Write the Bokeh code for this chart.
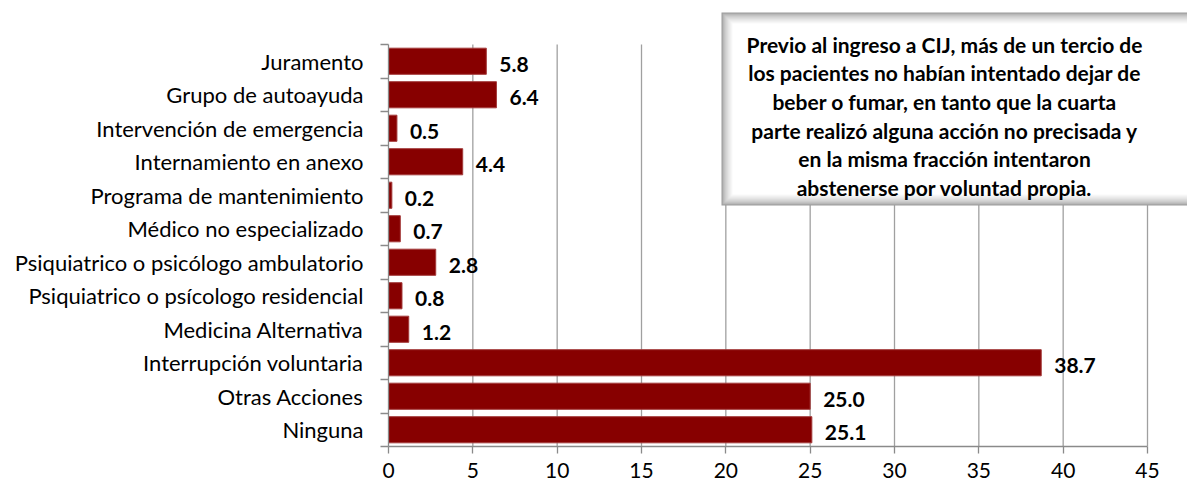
from bokeh.plotting import figure
from bokeh.models import ColumnDataSource, FixedTicker, Range1d
from bokeh.core.properties import value
from bokeh.embed import file_html
from bokeh.resources import INLINE

# ---------------- data (top to bottom as in the chart) ----------------
categories = [
    "Juramento",
    "Grupo de autoayuda",
    "Intervención de emergencia",
    "Internamiento en anexo",
    "Programa de mantenimiento",
    "Médico no especializado",
    "Psiquiatrico o psicólogo ambulatorio",
    "Psiquiatrico o psícologo residencial",
    "Medicina Alternativa",
    "Interrupción voluntaria",
    "Otras Acciones",
    "Ninguna",
]
values = [5.8, 6.4, 0.5, 4.4, 0.2, 0.7, 2.8, 0.8, 1.2, 38.7, 25.0, 25.1]
x_ticks = [0, 5, 10, 15, 20, 25, 30, 35, 40, 45]
note_lines = [
    "Previo al ingreso a CIJ, más de un tercio de",
    "los pacientes no habían intentado dejar de",
    "beber o fumar, en tanto que la cuarta",
    "parte realizó alguna acción no precisada y",
    "en la misma fracción intentaron",
    "abstenerse por voluntad propia.",
]

# ---------------- layout ----------------
W, H = 1187, 487
FL, FB, FT = 388, 446, 11       # frame left / bottom / top (pixels)
BL, BR, BT, BB = FL, 0, FT, H - FB
frame_w = W - BL - BR
frame_h = H - BT - BB
n = len(categories)
Y0 = -0.5
px_per_y = (FB - 44) / n        # category band height
Y1 = Y0 + frame_h / px_per_y
X0 = 0
px_per_x = (1147 - FL) / 45.0
X1 = X0 + frame_w / px_per_x

FONT = "Lato"
BAR = "#870000"
GRID = "#a0a0a0"
AXIS = "#8a8a8a"

ypos = [n - 1 - i for i in range(n)]
src = ColumnDataSource(dict(y=ypos, v=values, cat=categories,
                            lab=[f"{v:.1f}" for v in values]))

p = figure(width=W, height=H, output_backend="svg", toolbar_location=None,
           x_range=Range1d(X0, X1), y_range=Range1d(Y0, Y1),
           min_border_left=BL, min_border_right=BR,
           min_border_top=BT, min_border_bottom=BB)
p.outline_line_color = None
p.xgrid.visible = False
p.ygrid.visible = False
p.background_fill_color = "white"
p.border_fill_color = "white"

# vertical grid lines (only within the plot area)
gx = [t for t in x_ticks if t > 0]
p.segment(x0=gx, x1=gx, y0=[Y0] * len(gx), y1=[n - 0.5] * len(gx),
          line_color=GRID, line_width=1.3)

# bars
p.hbar(y="y", right="v", left=0, height=0.78, source=src,
       fill_color=BAR, line_color="#a33a3a", line_width=1)

# value labels
p.text(x="v", y="y", text="lab", source=src, x_offset=13, y_offset=3,
       text_font=value(FONT), text_font_style="bold", text_font_size="21px",
       text_baseline="middle", text_align="left", text_color="black")

# ---------------- note box with soft inner shadow ----------------
def px_to_x(px):
    return X0 + (px - FL) / px_per_x

def py_to_y(py):
    return Y0 + (FB - py) / px_per_y

bx0, bx1 = px_to_x(721), px_to_x(1205)
by0, by1 = py_to_y(205), py_to_y(12)
layers = 11
for k in range(layers + 1):
    t = k / layers
    g = int(155 + (255 - 155) * (t ** 0.6))
    col = "#%02x%02x%02x" % (g, g, g)
    dx, dy = k / px_per_x, k / px_per_y
    p.quad(left=[bx0 + dx], right=[bx1 - dx], bottom=[by0 + dy], top=[by1 - dy],
           fill_color=col, line_color=None)

cx = px_to_x(944)
line_y = [py_to_y(43.5 + 28.7 * i) for i in range(len(note_lines))]
p.text(x=[cx] * len(note_lines), y=line_y, text=note_lines,
       text_font=value(FONT), text_font_style="bold", text_font_size="21px",
       text_align="center", text_baseline="alphabetic", text_color="black")

# ---------------- axes ----------------
xa = p.xaxis[0]
xa.ticker = FixedTicker(ticks=x_ticks)
xa.bounds = (0, 45)
xa.axis_line_color = AXIS
xa.axis_line_width = 1.3
xa.major_tick_line_color = AXIS
xa.major_tick_line_width = 1.3
xa.major_tick_out = 7
xa.major_tick_in = 0
xa.minor_tick_line_color = None
xa.major_label_standoff = 9
xa.major_label_text_font = FONT
xa.major_label_text_font_size = "21px"
xa.major_label_text_color = "black"

ya = p.yaxis[0]
ya.ticker = FixedTicker(ticks=ypos, minor_ticks=[k - 0.5 for k in range(n + 1)])
ya.bounds = (-0.5, n - 0.5)
ya.axis_line_color = AXIS
ya.axis_line_width = 1.3
ya.major_tick_line_color = None
ya.major_tick_out = 0
ya.major_tick_in = 0
ya.minor_tick_line_color = AXIS
ya.minor_tick_line_width = 1.3
ya.minor_tick_out = 8
ya.minor_tick_in = 0
ya.major_label_overrides = {yy: c for yy, c in zip(ypos, categories)}
ya.major_label_standoff = 17
ya.major_label_text_font = FONT
ya.major_label_text_font_size = "22px"
ya.major_label_text_color = "black"

open("out.html", "w").write(file_html(p, INLINE))
